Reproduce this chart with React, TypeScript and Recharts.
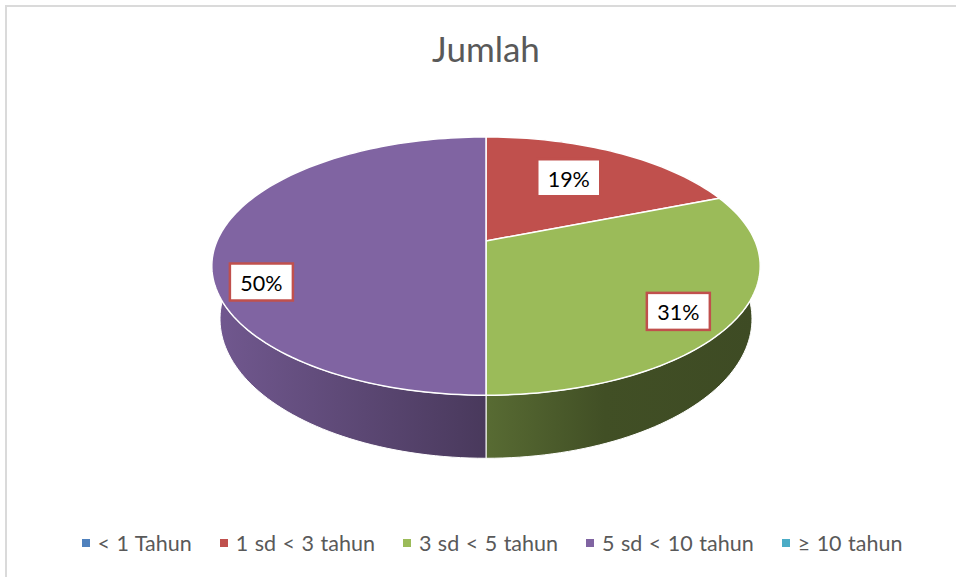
import React from "react";
import { PieChart, Pie, Cell, Legend } from "recharts";

const categories = ["< 1 Tahun", "1 sd < 3 tahun", "3 sd < 5 tahun", "5 sd < 10 tahun", "≥ 10 tahun"];
const values = [0, 19, 31, 50, 0];
const colors = ["#4F81BD", "#C0504D", "#9BBB59", "#8064A2", "#4BACC6"];

const data = categories.map((name, i) => ({ name, value: values[i] }));

const FONT = "Lato, 'Noto Sans', sans-serif";

// 3D look: squash, perspective and thickness of the disc
const TILT = 0.462;
const PERSP = 0.194;
const DEPTH = 0.189;
const BASE_SHRINK = 0.97;

// where the data labels sit on each slice (radius fraction, extra drop in px)
const labelRadius = [0.6, 0.6, 0.79, 0.835, 0.6];
const labelDrop = [0, -7, 10, 41, 0];

function project(angle: number, r: number, cx: number, cy: number, R: number, bottom: boolean) {
  const a = (angle * Math.PI) / 180;
  const u = r * Math.cos(a);
  const v = r * Math.sin(a);
  const d = 1 + PERSP * v;
  const sx = bottom ? BASE_SHRINK : 1;
  const drop = bottom ? R * DEPTH : 0;
  return [cx + ((R * u) / d) * sx, cy + (drop - R * TILT * v) / d];
}

function arcPoints(a0: number, a1: number, cx: number, cy: number, R: number, bottom: boolean) {
  const n = Math.max(2, Math.ceil(Math.abs(a1 - a0) / 1.5));
  const pts: number[][] = [];
  for (let i = 0; i <= n; i++) {
    pts.push(project(a0 + ((a1 - a0) * i) / n, 1, cx, cy, R, bottom));
  }
  return pts;
}

function shade(hex: string, f: number) {
  const n = parseInt(hex.slice(1), 16);
  const c = [(n >> 16) & 255, (n >> 8) & 255, n & 255].map((x) => Math.round(x * f));
  return `rgb(${c[0]},${c[1]},${c[2]})`;
}

const toPath = (pts: number[][]) =>
  pts.map((p, i) => `${i ? "L" : "M"}${p[0].toFixed(2)},${p[1].toFixed(2)}`).join(" ");

const TopFace = (props: any) => {
  const { cx, cy, outerRadius, startAngle, endAngle, fill } = props;
  if (Math.abs(endAngle - startAngle) < 0.01) return <g />;
  const c = project(0, 0, cx, cy, outerRadius, false);
  const pts = [c, ...arcPoints(startAngle, endAngle, cx, cy, outerRadius, false)];
  return (
    <path d={toPath(pts) + " Z"} fill={fill} stroke="#fff" strokeWidth={1.5} strokeLinejoin="round" />
  );
};

const SideFace = (props: any) => {
  const { cx, cy, outerRadius, startAngle, endAngle, fill } = props;
  if (Math.abs(endAngle - startAngle) < 0.01) return <g />;
  const idx = colors.indexOf(fill);
  const id = `side-grad-${idx}`;
  const top = arcPoints(startAngle, endAngle, cx, cy, outerRadius, false);
  const bot = arcPoints(endAngle, startAngle, cx, cy, outerRadius, true);
  return (
    <g>
      <defs>
        <linearGradient id={id} gradientUnits="userSpaceOnUse" x1={cx - outerRadius} x2={cx + outerRadius} y1={0} y2={0}>
          <stop offset="0%" stopColor={shade(fill, 0.88)} />
          <stop offset="50%" stopColor={shade(fill, 0.57)} />
          <stop offset="72%" stopColor={shade(fill, 0.42)} />
          <stop offset="100%" stopColor={shade(fill, 0.4)} />
        </linearGradient>
      </defs>
      <path d={toPath([...top, ...bot]) + " Z"} fill={`url(#${id})`} stroke="#fff" strokeWidth={1} strokeLinejoin="round" />
    </g>
  );
};

const renderLabel = (props: any) => {
  const { cx, cy, midAngle, outerRadius, value, percent, index } = props;
  if (!value) return null;
  const [x, y0] = project(midAngle, labelRadius[index], cx, cy, outerRadius, false);
  const y = y0 + labelDrop[index];
  return (
    <g>
      <rect x={x - 31.5} y={y - 18.5} width={63} height={37} fill="#fff" stroke="#C0504D" strokeWidth={2.5} />
      <text x={x} y={y + 1} textAnchor="middle" dominantBaseline="central" fontSize={21.5} fontFamily={FONT} fill="#000">
        {Math.round(percent * 100)}%
      </text>
    </g>
  );
};

const LegendRow = () => (
  <div
    style={{
      display: "flex",
      justifyContent: "center",
      gap: 28,
      paddingLeft: 28,
      fontFamily: FONT,
      fontSize: 21.5,
      wordSpacing: 1,
      color: "#595959",
      lineHeight: "26px",
    }}
  >
    {categories.map((c, i) => (
      <div key={c} style={{ display: "flex", alignItems: "center", whiteSpace: "nowrap" }}>
        <span style={{ width: 8, height: 8, background: colors[i], marginRight: 8, display: "inline-block" }} />
        <span>{c}</span>
      </div>
    ))}
  </div>
);

export default function App() {
  return (
    <div style={{ position: "absolute", left: 0, top: 0, width: 956, height: 577, background: "#fff", overflow: "hidden" }}>
      <div
        style={{
          position: "absolute",
          left: 5,
          top: 5,
          width: 1200,
          height: 1200,
          borderLeft: "2px solid #DADADA",
          borderTop: "2px solid #DADADA",
        }}
      />
      <div
        style={{
          position: "absolute",
          left: 0,
          top: 28,
          width: 972,
          textAlign: "center",
          fontFamily: FONT,
          fontSize: 35,
          lineHeight: "40px",
          color: "#595959",
        }}
      >
        Jumlah
      </div>
      <PieChart width={956} height={577} margin={{ top: 0, right: 0, bottom: 0, left: 0 }} style={{ position: "absolute", left: 0, top: 0 }}>
        <Pie
          data={data}
          dataKey="value"
          nameKey="name"
          cx={486}
          cy={241}
          outerRadius={269}
          startAngle={90}
          endAngle={-270}
          legendType="none"
          shape={SideFace}
          isAnimationActive={false}
          label={false}
          labelLine={false}
        >
          {data.map((d, i) => (
            <Cell key={d.name} fill={colors[i]} />
          ))}
        </Pie>
        <Pie
          data={data}
          dataKey="value"
          nameKey="name"
          cx={486}
          cy={241}
          outerRadius={269}
          startAngle={90}
          endAngle={-270}
          shape={TopFace}
          isAnimationActive={false}
          label={renderLabel}
          labelLine={false}
        >
          {data.map((d, i) => (
            <Cell key={d.name} fill={colors[i]} />
          ))}
        </Pie>
        <Legend
          content={() => <LegendRow />}
          wrapperStyle={{ position: "absolute", left: 0, top: 530, width: 956 }}
        />
      </PieChart>
    </div>
  );
}
